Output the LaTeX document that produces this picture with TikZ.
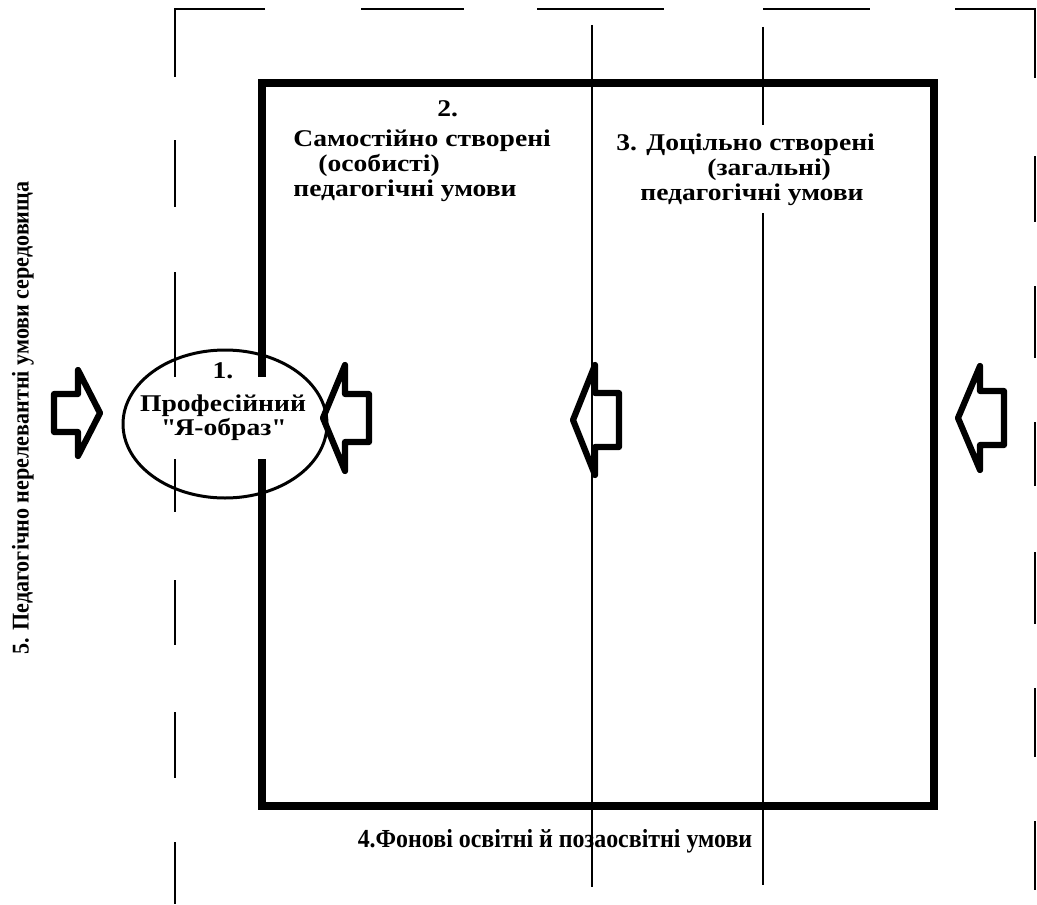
\documentclass[tikz,border=0pt]{standalone}
\usepackage{fontspec}
\setmainfont{Liberation Serif}
\newfontfamily\widefont{Liberation Serif}[FakeStretch=1.15]
\newfontfamily\narrowfont{Liberation Serif}[FakeStretch=0.92]
\usepackage{tikz}
\usetikzlibrary{shapes.geometric}
\tikzset{
  frameline/.style={line width=0.75pt},
  boxline/.style={line width=4pt,line join=miter},
  splitline/.style={line width=0.6pt},
  arrowstroke/.style={line width=3.1pt,line join=round},
  caption/.style={font=\widefont\bfseries\fontsize{12}{12.5}\selectfont,inner sep=0pt,align=left},
}
\newcommand{\blockarrow}[5]{%
  \begin{scope}[shift={(#1,#2)},xscale=#3]
    \draw[arrowstroke] (0,0) -- (-22,-#4) -- (-22,-#5) -- (-46,-#5)
      -- (-46,#5) -- (-22,#5) -- (-22,#4) -- cycle;
  \end{scope}
}

\begin{document}
\begin{tikzpicture}[x=0.5pt,y=-0.5pt]
  \useasboundingbox (0,0) rectangle (1037,904);
  \draw[frameline] (265,9) -- (175,9) -- (175,77);
  \draw[frameline] (955,9) -- (1035,9) -- (1035,78);
  \foreach \a/\b in {361/464,537/664,763/870}
    \draw[frameline] (\a,9) -- (\b,9);
  \foreach \a/\b in {140/207,272/383,455/512,580/645,712/778,842/904}
    \draw[frameline] (175,\a) -- (175,\b);
  \foreach \a/\b in {156/222,286/358,422/486,552/624,688/757,821/890}
    \draw[frameline] (1035,\a) -- (1035,\b);
  \draw[splitline] (592,25) -- (592,887);
  \draw[splitline] (763,27) -- (763,885);
  \draw[boxline] (262,83) rectangle (934,806);

  \node[caption,font=\widefont\bfseries\fontsize{12}{11}\selectfont,fill=white,
        inner xsep=3pt,inner ysep=9pt,align=center] (selftext) at (223,418)
        {Професійний\\\textquotedbl Я-образ\textquotedbl};
  \node[ellipse,draw,line width=1.5pt,minimum width=102pt,minimum height=74pt]
        (selfimage) at (225,424) {};
  \node[caption] (selfnum) at (223,371) {1.};
  \node[caption,anchor=north west] (owncond) at (293,100)
        {\hspace*{72pt}2.\\[2.5pt]Самостійно створені\\\hspace*{12.5pt}(особисті)\\педагогічні умови};
  \node[caption,anchor=north west,fill=white,inner xsep=4pt,inner ysep=4pt]
        (aimcond) at (608,125)
        {3. Доцільно створені\\\hspace*{45.5pt}(загальні)\\\hspace*{12pt}педагогічні умови};
  \node[caption,font=\narrowfont\bfseries\fontsize{13}{13.5}\selectfont] (backcond) at (555,841)
        {4.Фонові освітні й позаосвітні умови};
  \node[caption,font=\narrowfont\bfseries\fontsize{12}{12.5}\selectfont,rotate=90] (envcond) at (23,418)
        {5. Педагогічно нерелевантні умови середовища};

  \blockarrow{100}{413}{1}{43}{19}
  \blockarrow{323}{418}{-1}{53}{24}
  \blockarrow{573}{420}{-1}{55}{27}
  \blockarrow{958}{418}{-1}{52}{27}
\end{tikzpicture}
\end{document}
